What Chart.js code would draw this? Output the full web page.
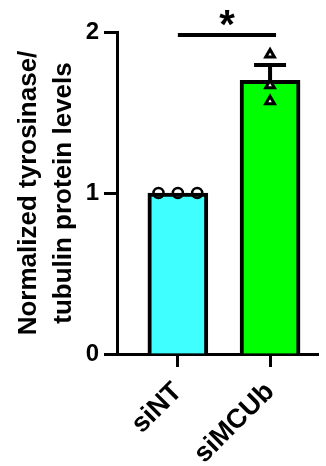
<!DOCTYPE html>
<html>
<head>
<meta charset="utf-8">
<script src="https://cdn.jsdelivr.net/npm/chart.js@4/dist/chart.umd.min.js"></script>
<style>
  html, body { margin: 0; padding: 0; background: #ffffff; }
  canvas { display: block; }
</style>
</head>
<body>
<canvas id="chart" width="326" height="466"></canvas>
<script>
// Group names, bar heights (mean) and SEM
const categories = ['siNT', 'siMCUb'];
const barMeans = [1.0, 1.70];
const barSem = [0, 0.095];

// Individual replicates per group
const siNTReplicates = [1.0, 1.0, 1.0];
const siMCUbReplicates = [1.86, 1.67, 1.57];

const yTicks = [0, 1, 2];
const yTitle = ['Normalized tyrosinase/', 'tubulin protein levels'];
const significanceMark = '*';

const FONT = "'Liberation Sans', Arial, Helvetica, sans-serif";
const barColors = ['#40FFFF', '#00FF00'];

// Spread tied replicate values side by side, keep distinct ones centred
function spreadPoints(values, groupIndex, step) {
  const counts = {};
  values.forEach(v => { counts[v] = (counts[v] || 0) + 1; });
  const seen = {};
  return values.map(v => {
    const n = counts[v];
    const k = seen[v] = (seen[v] === undefined ? 0 : seen[v] + 1);
    return { x: groupIndex + (k - (n - 1) / 2) * step, y: v };
  });
}

// Error caps (upward only) plus the significance bracket
const annotations = {
  id: 'annotations',
  afterDatasetsDraw(chart) {
    const { ctx, scales: { x, y } } = chart;
    ctx.save();
    ctx.strokeStyle = '#000';
    ctx.lineWidth = 4;
    ctx.lineCap = 'butt';
    barMeans.forEach((m, i) => {
      if (!barSem[i]) return;
      const cx = x.getPixelForValue(i);
      const top = y.getPixelForValue(m + barSem[i]);
      const base = y.getPixelForValue(m);
      ctx.beginPath();
      ctx.moveTo(cx, base);
      ctx.lineTo(cx, top);
      ctx.moveTo(cx - 16, top);
      ctx.lineTo(cx + 16, top);
      ctx.stroke();
    });
    // bracket between the two groups
    const x0 = x.getPixelForValue(0);
    const x1 = x.getPixelForValue(1) + 6;
    const yb = y.getPixelForValue(2) + 3;
    ctx.beginPath();
    ctx.moveTo(x0, yb);
    ctx.lineTo(x1, yb);
    ctx.stroke();
    ctx.fillStyle = '#000';
    ctx.font = 'bold 40px ' + FONT;
    ctx.textAlign = 'center';
    ctx.textBaseline = 'alphabetic';
    ctx.fillText(significanceMark, (x0 + x1) / 2, yb + 3);
    ctx.restore();
  }
};

new Chart(document.getElementById('chart'), {
  type: 'bar',
  data: {
    datasets: [
      {
        type: 'scatter',
        label: 'siNT points',
        data: spreadPoints(siNTReplicates, 0, 0.21),
        pointStyle: 'circle',
        pointRadius: 5,
        pointBorderWidth: 2.5,
        pointBackgroundColor: 'rgba(0,0,0,0)',
        pointBorderColor: '#000',
        order: 0
      },
      {
        type: 'scatter',
        label: 'siMCUb points',
        data: spreadPoints(siMCUbReplicates, 1, 0.21),
        pointStyle: 'triangle',
        pointRadius: 5,
        pointBorderWidth: 3,
        pointBackgroundColor: '#ffffff',
        pointBorderColor: '#000',
        order: 0
      },
      {
        type: 'bar',
        label: 'mean',
        data: categories.map((c, i) => ({ x: i, y: barMeans[i] })),
        backgroundColor: barColors,
        borderColor: '#000',
        borderWidth: 4,
        borderSkipped: 'start',
        barThickness: 60,
        order: 1
      }
    ]
  },
  options: {
    responsive: false,
    animation: false,
    events: [],
    layout: { padding: { top: 32, right: 4, left: 0, bottom: 0 } },
    plugins: { legend: { display: false }, tooltip: { enabled: false } },
    scales: {
      x: {
        type: 'linear',
        min: -0.66,
        max: 1.52,
        offset: false,
        afterBuildTicks: s => { s.ticks = categories.map((c, i) => ({ value: i })); },
        afterFit: s => { s.height = 112; },
        grid: {
          offset: false,
          drawOnChartArea: false,
          drawTicks: true,
          tickLength: 13,
          tickWidth: 3,
          tickColor: '#000'
        },
        border: { display: true, color: '#000', width: 3 },
        ticks: {
          color: '#000',
          font: { family: FONT, size: 27, weight: 'bold' },
          minRotation: 45,
          maxRotation: 45,
          padding: 9,
          autoSkip: false,
          callback: v => categories[v]
        }
      },
      y: {
        min: 0,
        max: 2,
        afterBuildTicks: s => { s.ticks = yTicks.map(v => ({ value: v })); },
        afterFit: s => { s.width = 117; },
        grid: {
          drawOnChartArea: false,
          drawTicks: true,
          tickLength: 13,
          tickWidth: 3,
          tickColor: '#000'
        },
        border: { display: true, color: '#000', width: 3 },
        ticks: {
          color: '#000',
          font: { family: FONT, size: 24, weight: 'bold' },
          padding: 5
        },
        title: {
          display: true,
          text: yTitle,
          color: '#000',
          font: { family: FONT, size: 26, weight: 'bold', lineHeight: 1.35 },
          padding: { top: 11, bottom: 0 }
        }
      }
    }
  },
  plugins: [annotations]
});
</script>
</body>
</html>
